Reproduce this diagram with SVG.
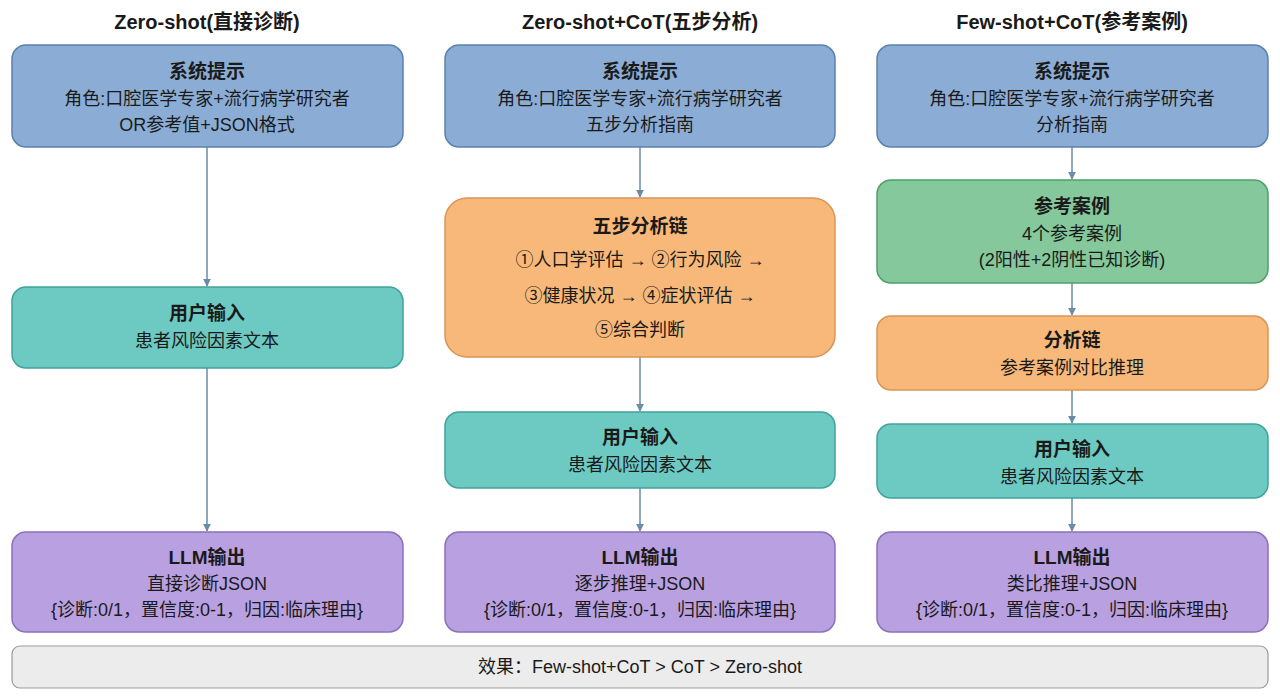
<svg xmlns="http://www.w3.org/2000/svg" width="1280" height="698" viewBox="0 0 1280 698">
<style>
text{font-family:"Liberation Sans","Noto Sans CJK SC",sans-serif;fill:#1a1a1a;text-anchor:middle}
.h{font-size:20px;font-weight:bold}
.t{font-size:19px;font-weight:bold}
.s{font-size:18px}
.b{fill:#8badd5;stroke:#5b81ab;stroke-width:1.5}
.g{fill:#6ccac3;stroke:#3fa39c;stroke-width:1.5}
.o{fill:#f8b879;stroke:#d99652;stroke-width:1.5}
.n{fill:#84c89b;stroke:#4f9f6b;stroke-width:1.5}
.p{fill:#b9a1e1;stroke:#8a70bb;stroke-width:1.5}
.c line{stroke:#6a8ba6;stroke-width:1.5;marker-end:url(#a)}
</style>
<defs><marker id="a" viewBox="0 0 10 10" refX="9" refY="5" markerWidth="8" markerHeight="8" orient="auto" markerUnits="userSpaceOnUse"><path d="M0,0L10,5L0,10z" fill="#6a8ba6"/></marker></defs>
<rect width="1280" height="698" fill="#fff"/>
<text class="h" x="207" y="29">Zero-shot(直接诊断)</text>
<text class="h" x="640" y="29">Zero-shot+CoT(五步分析)</text>
<text class="h" x="1072" y="29">Few-shot+CoT(参考案例)</text>
<g class="c">
<line x1="207" y1="147" x2="207" y2="286"/>
<line x1="207" y1="368" x2="207" y2="531"/>
<line x1="640" y1="147" x2="640" y2="197"/>
<line x1="640" y1="357" x2="640" y2="411"/>
<line x1="640" y1="488" x2="640" y2="531"/>
<line x1="1072" y1="147" x2="1072" y2="179"/>
<line x1="1072" y1="283" x2="1072" y2="315"/>
<line x1="1072" y1="390" x2="1072" y2="423"/>
<line x1="1072" y1="498" x2="1072" y2="531"/>
</g>
<g id="z-sys"><rect class="b" x="12" y="45" width="391" height="102" rx="14"/><text class="t" x="207" y="78">系统提示</text><text class="s" x="207" y="105">角色:口腔医学专家+流行病学研究者</text><text class="s" x="207" y="131">OR参考值+JSON格式</text></g>
<g id="z-user"><rect class="g" x="12" y="287" width="391" height="81" rx="14"/><text class="t" x="207" y="320">用户输入</text><text class="s" x="207" y="347">患者风险因素文本</text></g>
<g id="z-llm"><rect class="p" x="12" y="532" width="391" height="100" rx="14"/><text class="t" x="207" y="564">LLM输出</text><text class="s" x="207" y="590">直接诊断JSON</text><text class="s" x="207" y="616">{诊断:0/1，置信度:0-1，归因:临床理由}</text></g>
<g id="c-sys"><rect class="b" x="445" y="45" width="390" height="102" rx="14"/><text class="t" x="640" y="78">系统提示</text><text class="s" x="640" y="105">角色:口腔医学专家+流行病学研究者</text><text class="s" x="640" y="131">五步分析指南</text></g>
<g id="c-five"><rect class="o" x="445" y="198" width="390" height="159" rx="22"/><text class="t" x="640" y="233">五步分析链</text><text class="s" x="640" y="266">①人口学评估 → ②行为风险 →</text><text class="s" x="640" y="302">③健康状况 → ④症状评估 →</text><text class="s" x="640" y="336">⑤综合判断</text></g>
<g id="c-user"><rect class="g" x="445" y="412" width="390" height="76" rx="14"/><text class="t" x="640" y="444">用户输入</text><text class="s" x="640" y="471">患者风险因素文本</text></g>
<g id="c-llm"><rect class="p" x="445" y="532" width="390" height="100" rx="14"/><text class="t" x="640" y="564">LLM输出</text><text class="s" x="640" y="590">逐步推理+JSON</text><text class="s" x="640" y="616">{诊断:0/1，置信度:0-1，归因:临床理由}</text></g>
<g id="f-sys"><rect class="b" x="877" y="45" width="391" height="102" rx="14"/><text class="t" x="1072" y="78">系统提示</text><text class="s" x="1072" y="105">角色:口腔医学专家+流行病学研究者</text><text class="s" x="1072" y="131">分析指南</text></g>
<g id="f-ref"><rect class="n" x="877" y="180" width="391" height="103" rx="14"/><text class="t" x="1072" y="213">参考案例</text><text class="s" x="1072" y="240">4个参考案例</text><text class="s" x="1072" y="266">(2阳性+2阴性已知诊断)</text></g>
<g id="f-chain"><rect class="o" x="877" y="316" width="391" height="74" rx="14"/><text class="t" x="1072" y="347">分析链</text><text class="s" x="1072" y="374">参考案例对比推理</text></g>
<g id="f-user"><rect class="g" x="877" y="424" width="391" height="74" rx="14"/><text class="t" x="1072" y="456">用户输入</text><text class="s" x="1072" y="483">患者风险因素文本</text></g>
<g id="f-llm"><rect class="p" x="877" y="532" width="391" height="100" rx="14"/><text class="t" x="1072" y="564">LLM输出</text><text class="s" x="1072" y="590">类比推理+JSON</text><text class="s" x="1072" y="616">{诊断:0/1，置信度:0-1，归因:临床理由}</text></g>
<g id="summary"><rect x="12" y="646" width="1256" height="42" rx="8" fill="#ececec" stroke="#9a9a9a" stroke-width="1.2"/><text class="s" x="640" y="673">效果：Few-shot+CoT &gt; CoT &gt; Zero-shot</text></g>
</svg>
